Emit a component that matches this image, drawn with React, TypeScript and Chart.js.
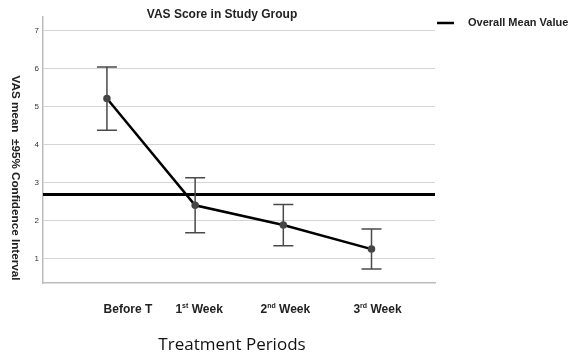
import React, { useEffect, useRef } from "react";
import { Chart, registerables } from "chart.js";

Chart.register(...registerables);

const categories = ["Before T", "1st Week", "2nd Week", "3rd Week"];
const labelMain = ["Before T", "1", "2", "3"];
const labelSup = ["", "st", "nd", "rd"];
const labelTail = ["", " Week", " Week", " Week"];
const meanValues = [5.21, 2.41, 1.89, 1.26];
const ciUpper = [6.04, 3.13, 2.43, 1.79];
const ciLower = [4.38, 1.69, 1.35, 0.74];
const overallMean = 2.69;
const yTicks = [1, 2, 3, 4, 5, 6, 7];
const chartTitle = "VAS Score in Study Group";
const yTitle = "VAS mean  \u00b195% Confidence Interval";
const xTitle = "Treatment Periods";
const legendLabel = "Overall Mean Value";

const overlayPlugin = {
  id: "overlay",
  afterDatasetsDraw(chart: any) {
    const ctx = chart.ctx;
    const xs = chart.scales.x;
    const ys = chart.scales.y;
    const area = chart.chartArea;
    ctx.save();
    // overall mean line
    const my = ys.getPixelForValue(overallMean);
    ctx.strokeStyle = "#000";
    ctx.lineWidth = 3;
    ctx.beginPath();
    ctx.moveTo(area.left, my);
    ctx.lineTo(area.right, my);
    ctx.stroke();
    // error bars
    ctx.strokeStyle = "#4a4a4a";
    ctx.lineWidth = 1.5;
    for (let i = 0; i < categories.length; i++) {
      const px = xs.getPixelForValue(i);
      const yt = ys.getPixelForValue(ciUpper[i]);
      const yb = ys.getPixelForValue(ciLower[i]);
      ctx.beginPath();
      ctx.moveTo(px, yt);
      ctx.lineTo(px, yb);
      ctx.moveTo(px - 10, yt);
      ctx.lineTo(px + 10, yt);
      ctx.moveTo(px - 10, yb);
      ctx.lineTo(px + 10, yb);
      ctx.stroke();
    }
    ctx.restore();
  },
  afterDraw(chart: any) {
    const ctx = chart.ctx;
    const xs = chart.scales.x;
    ctx.save();
    ctx.fillStyle = "#222";
    // title
    ctx.font = "bold 12px 'Liberation Sans', Arial, sans-serif";
    ctx.textAlign = "center";
    ctx.textBaseline = "middle";
    ctx.fillText(chartTitle, 222, 15);
    // x tick labels with superscripts
    const mainFont = "bold 12px 'Liberation Sans', Arial, sans-serif";
    const supFont = "bold 7px 'Liberation Sans', Arial, sans-serif";
    const offsets = [21, 4, 2, 6];
    for (let i = 0; i < categories.length; i++) {
      ctx.font = mainFont;
      const w1 = ctx.measureText(labelMain[i]).width;
      const w3 = ctx.measureText(labelTail[i]).width;
      ctx.font = supFont;
      const w2 = ctx.measureText(labelSup[i]).width;
      const total = w1 + w2 + w3;
      let x = xs.getPixelForValue(i) + offsets[i] - total / 2;
      const y = 310;
      ctx.textAlign = "left";
      ctx.textBaseline = "middle";
      ctx.font = mainFont;
      ctx.fillText(labelMain[i], x, y);
      x += w1;
      ctx.font = supFont;
      ctx.fillText(labelSup[i], x, y - 4);
      x += w2;
      ctx.font = mainFont;
      ctx.fillText(labelTail[i], x, y);
    }
    // x axis title
    ctx.fillStyle = "#111";
    ctx.font = "17px 'Open Sans', 'Liberation Sans', sans-serif";
    ctx.textAlign = "center";
    ctx.textBaseline = "middle";
    ctx.fillText(xTitle, 232, 345);
    // y axis title
    ctx.save();
    ctx.translate(15, 178);
    ctx.rotate(Math.PI / 2);
    ctx.font = "bold 11.7px 'Liberation Sans', Arial, sans-serif";
    ctx.fillStyle = "#222";
    ctx.fillText(yTitle, 0, 0);
    ctx.restore();
    // legend
    ctx.strokeStyle = "#000";
    ctx.lineWidth = 2.5;
    ctx.beginPath();
    ctx.moveTo(437, 23);
    ctx.lineTo(454, 23);
    ctx.stroke();
    ctx.font = "bold 11px 'Liberation Sans', Arial, sans-serif";
    ctx.textAlign = "left";
    ctx.fillStyle = "#222";
    ctx.fillText(legendLabel, 468, 23);
    ctx.restore();
  },
};

export default function App() {
  const ref = useRef<HTMLCanvasElement | null>(null);
  useEffect(() => {
    if (!ref.current) return;
    const chart = new Chart(ref.current, {
      type: "line",
      data: {
        datasets: [
          {
            label: "VAS mean",
            data: meanValues.map((v, i) => ({ x: i, y: v })),
            borderColor: "#000",
            borderWidth: 2.5,
            pointBackgroundColor: "#444",
            pointBorderColor: "#444",
            pointRadius: 2.5,
            tension: 0,
          },
        ],
      },
      options: {
        animation: false,
        responsive: true,
        maintainAspectRatio: false,
        layout: { padding: { top: 17, right: 141, left: 0, bottom: 0 } },
        plugins: {
          legend: { display: false },
          title: { display: false },
          tooltip: { enabled: false },
        },
        scales: {
          x: {
            type: "linear",
            min: -0.725,
            max: 3.72,
            grid: { display: false, drawTicks: false },
            border: { display: true, color: "#bbb", width: 1.5 },
            ticks: { display: false },
            afterFit: (s: any) => {
              s.height = 78;
            },
          },
          y: {
            type: "linear",
            min: 0.37,
            max: 7.35,
            afterBuildTicks: (s: any) => {
              s.ticks = yTicks.map((v) => ({ value: v }));
            },
            grid: { color: "#d4d4d4", lineWidth: 1, drawTicks: false },
            border: { display: true, color: "#bbb", width: 1.5 },
            ticks: {
              color: "#333",
              font: { size: 8, family: "'Liberation Sans', Arial, sans-serif" },
              padding: 4,
            },
            afterFit: (s: any) => {
              s.width = 43;
            },
          },
        },
      },
      plugins: [overlayPlugin],
    } as any);
    return () => chart.destroy();
  }, []);
  return (
    <div style={{ position: "fixed", left: 0, top: 0, width: 576, height: 361, background: "#fff" }}>
      <canvas ref={ref} />
    </div>
  );
}
